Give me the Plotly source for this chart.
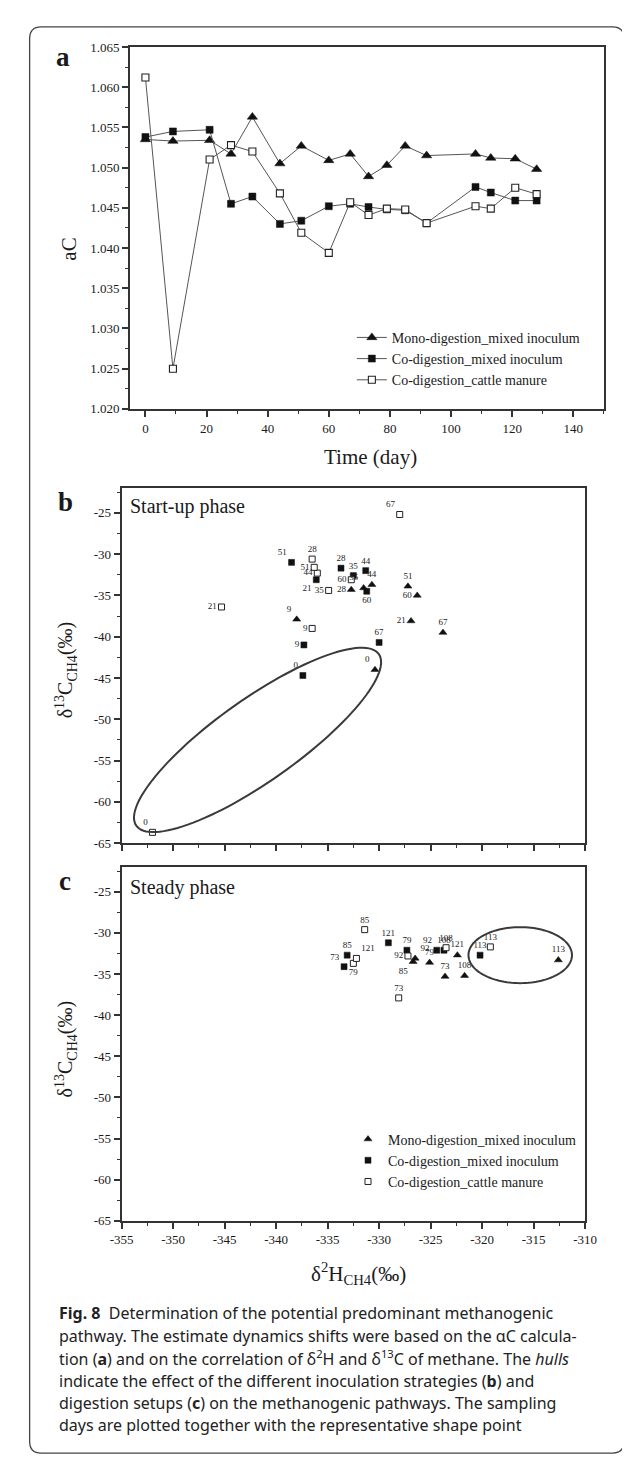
import numpy as np
import plotly.graph_objects as go

W, H = 630, 1457

# ---------------- data : panel a (alpha C vs time) ----------------
days_a = [0, 9, 21, 28, 35, 44, 51, 60, 67, 73, 79, 85, 92, 108, 113, 121, 128]
ac_mono = [1.0535, 1.0533, 1.0534, 1.0517, 1.0563, 1.0505, 1.0527, 1.0509, 1.0517,
           1.0489, 1.0503, 1.0527, 1.0515, 1.0517, 1.0512, 1.0511, 1.0498]
ac_comix = [1.0538, 1.0545, 1.0547, 1.0455, 1.0464, 1.0430, 1.0434, 1.0452, 1.0455,
            1.0451, 1.0448, 1.0447, 1.0431, 1.0476, 1.0469, 1.0459, 1.0459]
ac_cattle = [1.0612, 1.0250, 1.0510, 1.0528, 1.0520, 1.0468, 1.0419, 1.0394, 1.0457,
             1.0441, 1.0449, 1.0448, 1.0431, 1.0452, 1.0449, 1.0475, 1.0467]
a_xticks = [0, 20, 40, 60, 80, 100, 120, 140]
a_yticks = [1.020, 1.025, 1.030, 1.035, 1.040, 1.045, 1.050, 1.055, 1.060, 1.065]

# ---------------- data : panel b (start-up phase) ----------------
days_b = [0, 9, 21, 28, 35, 44, 51, 60, 67]
b_mono_h = [-330.4, -338.0, -326.9, -332.7, -331.5, -330.7, -327.2, -326.3, -323.8]
b_mono_c = [-44.0, -37.9, -38.1, -34.3, -34.1, -33.7, -33.9, -35.0, -39.5]
b_comix_h = [-337.4, -337.3, -336.1, -333.7, -332.5, -331.3, -338.5, -331.2, -330.0]
b_comix_c = [-44.7, -41.0, -33.1, -31.7, -32.6, -32.0, -31.0, -34.5, -40.7]
b_cattle_h = [-352.0, -336.5, -345.3, -336.5, -334.9, -336.0, -336.3, -332.7, -328.0]
b_cattle_c = [-63.7, -39.0, -36.4, -30.6, -34.4, -32.3, -31.6, -33.1, -25.2]

# ---------------- data : panel c (steady phase) ----------------
days_c = [73, 79, 85, 92, 108, 113, 121]
c_mono_h = [-323.6, -325.1, -326.7, -326.5, -321.7, -312.6, -322.4]
c_mono_c = [-35.3, -33.6, -33.5, -33.1, -35.2, -33.3, -32.7]
c_comix_h = [-333.4, -327.3, -333.1, -324.4, -323.7, -320.2, -329.1]
c_comix_c = [-34.1, -32.1, -32.7, -32.1, -32.1, -32.7, -31.2]
c_cattle_h = [-328.1, -332.5, -331.4, -327.2, -323.5, -319.2, -332.2]
c_cattle_c = [-37.9, -33.7, -29.6, -32.8, -31.8, -31.7, -33.1]

iso_xticks = [-355, -350, -345, -340, -335, -330, -325, -320, -315, -310]
iso_yticks = [-65, -60, -55, -50, -45, -40, -35, -30, -25]

series_names = ["Mono-digestion_mixed inoculum", "Co-digestion_mixed inoculum",
                "Co-digestion_cattle manure"]

# hulls (centre in data units, half-axes in screen px, tilt in degrees)
hull_b = dict(cx=-341.8, cy=-52.5, a=153.0, b=42.0, tilt=34.4)
hull_c = dict(cx=-316.3, cy=-32.7, a=53.8, b=28.3, tilt=0.0)

# ---------------- label placement (style) ----------------
pos_b_mono = ["top left", "top left", "middle left", "middle left", "top left",
              "top center", "top center", "middle left", "top center"]
pos_b_comix = ["top left", "middle left", "bottom left", "top center", "top center",
               "top center", "top left", "bottom center", "top center"]
pos_b_cattle = ["top left", "middle left", "middle left", "top center", "middle left",
                "middle left", "middle left", "middle left", "top left"]
pos_c_mono = ["top center", "top center", "bottom left", "top right", "top center",
              "top center", "top center"]
pos_c_comix = ["top left", "top center", "top center", "top left", "top center",
               "top center", "top center"]
pos_c_cattle = ["top center", "bottom center", "top center", "middle left", "top center",
                "top center", "top right"]

# ---------------- geometry (px) ----------------
A_X, A_Y = (114.5, 607.0), (32.3, 398.0)
B_X, B_Y = (105.6, 587.5), (478.0, 836.7)
C_X, C_Y = (105.6, 587.5), (861.0, 1218.3)
A_XR, A_YR = [-5, 150], [1.020, 1.065]
ISO_XR, ISO_YR = [-355, -310], [-65, -22]

SERIF = "Liberation Serif, Times New Roman, serif"
SANS = "Noto Sans, Open Sans, sans-serif"
INK = "#1a1a1a"
AX = "#333333"


def xdom(p):
    return [p[0] / W, p[1] / W]


def ydom(p):
    return [1 - p[1] / H, 1 - p[0] / H]


def P(x, y):
    return x / W, 1 - y / H


fig = go.Figure()

# ---------------- panel a traces ----------------
mk_tri_a = dict(symbol="triangle-up", size=9, color="#111", line=dict(color="#111", width=0.5))
mk_fsq_a = dict(symbol="square", size=7, color="#111", line=dict(color="#111", width=0.5))
mk_osq_a = dict(symbol="square", size=7, color="white", line=dict(color="#222", width=1.1))
for yv, mk, nm in [(ac_mono, mk_tri_a, series_names[0]),
                   (ac_comix, mk_fsq_a, series_names[1]),
                   (ac_cattle, mk_osq_a, series_names[2])]:
    fig.add_trace(go.Scatter(x=days_a, y=yv, mode="lines+markers", name=nm,
                             line=dict(color="#555", width=1), marker=mk,
                             xaxis="x", yaxis="y", legend="legend", hoverinfo="skip"))

# ---------------- panels b and c ----------------
mk_tri = dict(symbol="triangle-up", size=7, color="#111", line=dict(color="#111", width=0.5))
mk_fsq = dict(symbol="square", size=6, color="#111", line=dict(color="#111", width=0.5))
mk_osq = dict(symbol="square", size=6, color="white", line=dict(color="#222", width=1))

panels = [
    ("x2", "y2", days_b, [(b_mono_h, b_mono_c, mk_tri, pos_b_mono),
                          (b_comix_h, b_comix_c, mk_fsq, pos_b_comix),
                          (b_cattle_h, b_cattle_c, mk_osq, pos_b_cattle)], False),
    ("x3", "y3", days_c, [(c_mono_h, c_mono_c, mk_tri, pos_c_mono),
                          (c_comix_h, c_comix_c, mk_fsq, pos_c_comix),
                          (c_cattle_h, c_cattle_c, mk_osq, pos_c_cattle)], True),
]
for xa, ya, days, series, show in panels:
    for (hx, cy, mk, pos), nm in zip(series, series_names):
        fig.add_trace(go.Scatter(x=hx, y=cy, mode="markers", name=nm, marker=mk,
                                 xaxis=xa, yaxis=ya, showlegend=show, legend="legend2",
                                 hoverinfo="skip"))
    for (hx, cy, mk, pos), nm in zip(series, series_names):
        fig.add_trace(go.Scatter(x=hx, y=cy, mode="markers+text", text=[str(d) for d in days],
                                 textposition=pos,
                                 textfont=dict(family=SERIF, size=9, color="#222"),
                                 marker=dict(symbol=mk["symbol"], size=mk["size"], opacity=0),
                                 xaxis=xa, yaxis=ya, showlegend=False, hoverinfo="skip"))

# ---------------- hull shapes ----------------
shapes = []


def hull_path(h, xr, yr, xpx, ypx):
    sx = (xpx[1] - xpx[0]) / (xr[1] - xr[0])
    sy = (ypx[1] - ypx[0]) / (yr[1] - yr[0])
    t = np.linspace(0, 2 * np.pi, 121)
    th = np.deg2rad(h["tilt"])
    dx = h["a"] * np.cos(t) * np.cos(th) - h["b"] * np.sin(t) * np.sin(th)
    dy = h["a"] * np.cos(t) * np.sin(th) + h["b"] * np.sin(t) * np.cos(th)
    xs = h["cx"] + dx / sx
    ys = h["cy"] + dy / sy
    return "M " + " L ".join(f"{a:.4f},{b:.4f}" for a, b in zip(xs, ys)) + " Z"


shapes.append(dict(type="path", xref="x2", yref="y2",
                   path=hull_path(hull_b, ISO_XR, ISO_YR, B_X, B_Y),
                   line=dict(color="#3a3a3a", width=2)))
shapes.append(dict(type="path", xref="x3", yref="y3",
                   path=hull_path(hull_c, ISO_XR, ISO_YR, C_X, C_Y),
                   line=dict(color="#3a3a3a", width=2)))

# outer rounded frame
fx0, fy0, fx1, fy1, r = 10, 12, 628, 1453, 12
x0p, y0p = P(fx0, fy0)
x1p, y1p = P(fx1, fy1)
rx, ry = r / W, r / H
frame = (f"M {x0p+rx},{y0p} L {x1p-rx},{y0p} Q {x1p},{y0p} {x1p},{y0p-ry} "
         f"L {x1p},{y1p+ry} Q {x1p},{y1p} {x1p-rx},{y1p} "
         f"L {x0p+rx},{y1p} Q {x0p},{y1p} {x0p},{y1p+ry} "
         f"L {x0p},{y0p-ry} Q {x0p},{y0p} {x0p+rx},{y0p} Z")
shapes.append(dict(type="path", xref="paper", yref="paper", path=frame,
                   line=dict(color="#444", width=1.3), layer="below"))

# ---------------- annotations ----------------
ann = []


def add_text(x, y, text, size, family=SERIF, xanchor="center", angle=0, color=INK):
    px, py = P(x, y)
    ann.append(dict(x=px, y=py, xref="paper", yref="paper", text=text, showarrow=False,
                    xanchor=xanchor, yanchor="middle", textangle=angle,
                    font=dict(family=family, size=size, color=color)))


add_text(45, 42, "<b>a</b>", 27)
add_text(47, 492, "<b>b</b>", 27)
add_text(47, 875, "<b>c</b>", 27)
add_text(364, 447, "Time (day)", 21)
add_text(50, 237, "aC", 21, angle=-90)
add_text(112, 497, "Start-up phase", 20, xanchor="left")
add_text(112, 882, "Steady phase", 20, xanchor="left")
add_text(48, 662, "δ<sup>13</sup>C<sub>CH4</sub>(‰)", 20, angle=-90)
add_text(48, 1045, "δ<sup>13</sup>C<sub>CH4</sub>(‰)", 20, angle=-90)
add_text(352, 1272, "δ<sup>2</sup>H<sub>CH4</sub>(‰)", 21)

caption = [
    "<b>Fig. 8</b>\u00a0\u00a0Determination of the potential predominant methanogenic",
    "pathway. The estimate dynamics shifts were based on the αC calcula-",
    "tion (<b>a</b>) and on the correlation of δ<sup>2</sup>H and δ<sup>13</sup>C of methane. The <i>hulls</i>",
    "indicate the effect of the different inoculation strategies (<b>b</b>) and",
    "digestion setups (<b>c</b>) on the methanogenic pathways. The sampling",
    "days are plotted together with the representative shape point",
]
for i, line in enumerate(caption):
    add_text(38, 1312 + i * 22.6, line, 16, family=SANS, xanchor="left", color="#222")

# ---------------- axes ----------------
def axis_common():
    return dict(showline=True, linecolor=AX, linewidth=2, mirror=True, showgrid=False,
                zeroline=False, ticks="outside", ticklen=6, tickwidth=1.5, tickcolor=AX,
                tickfont=dict(family=SERIF, size=13, color=INK), fixedrange=True)


fig.update_layout(
    width=W, height=H, autosize=False, margin=dict(l=0, r=0, t=0, b=0),
    paper_bgcolor="white", plot_bgcolor="white", showlegend=True,
    shapes=shapes, annotations=ann,
    xaxis=dict(**axis_common(), domain=xdom(A_X), range=A_XR, anchor="y",
               tickvals=a_xticks, ticktext=[str(v) for v in a_xticks],
               minor=dict(ticks="outside", ticklen=3, tickwidth=1.2, tickcolor=AX,
                          tick0=0, dtick=10)),
    yaxis=dict(**axis_common(), domain=ydom(A_Y), range=A_YR, anchor="x",
               tickvals=a_yticks, ticktext=[f"{v:.3f}" for v in a_yticks],
               minor=dict(ticks="outside", ticklen=3, tickwidth=1.2, tickcolor=AX,
                          tick0=1.020, dtick=0.0025)),
    xaxis2=dict(**axis_common(), domain=xdom(B_X), range=ISO_XR, anchor="y2",
                tickvals=iso_xticks, showticklabels=False,
                minor=dict(ticks="outside", ticklen=3, tickwidth=1.2, tickcolor=AX,
                           tick0=-355, dtick=2.5)),
    yaxis2=dict(**axis_common(), domain=ydom(B_Y), range=ISO_YR, anchor="x2",
                tickvals=iso_yticks, ticktext=[str(v) for v in iso_yticks],
                minor=dict(ticks="outside", ticklen=3, tickwidth=1.2, tickcolor=AX,
                           tick0=-65, dtick=2.5)),
    xaxis3=dict(**axis_common(), domain=xdom(C_X), range=ISO_XR, anchor="y3",
                tickvals=iso_xticks, ticktext=[str(v) for v in iso_xticks],
                minor=dict(ticks="outside", ticklen=3, tickwidth=1.2, tickcolor=AX,
                           tick0=-355, dtick=2.5)),
    yaxis3=dict(**axis_common(), domain=ydom(C_Y), range=ISO_YR, anchor="x3",
                tickvals=iso_yticks, ticktext=[str(v) for v in iso_yticks],
                minor=dict(ticks="outside", ticklen=3, tickwidth=1.2, tickcolor=AX,
                           tick0=-65, dtick=2.5)),
    legend=dict(x=345 / W, y=1 - 310 / H, xanchor="left", yanchor="top",
                bgcolor="rgba(0,0,0,0)", tracegroupgap=0,
                font=dict(family=SERIF, size=14, color=INK)),
    legend2=dict(x=341 / W, y=1 - 1120 / H, xanchor="left", yanchor="top",
                 bgcolor="rgba(0,0,0,0)", tracegroupgap=0,
                 font=dict(family=SERIF, size=14, color=INK)),
)

fig.write_html("out.html")
